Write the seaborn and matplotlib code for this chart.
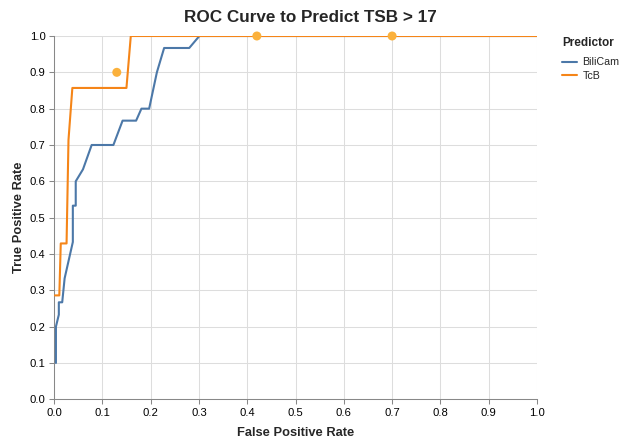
import matplotlib
matplotlib.use("Agg")
import matplotlib.pyplot as plt
import numpy as np
import pandas as pd
import seaborn as sns

# ROC coordinates for each predictor
bilicam_fpr = [0.004, 0.004, 0.010, 0.010, 0.017, 0.022, 0.039, 0.039, 0.045, 0.045,
               0.060, 0.078, 0.123, 0.142, 0.170, 0.181, 0.197, 0.213, 0.228, 0.280,
               0.301, 1.0]
bilicam_tpr = [0.100, 0.200, 0.233, 0.267, 0.267, 0.333, 0.433, 0.533, 0.533, 0.600,
               0.633, 0.700, 0.700, 0.767, 0.767, 0.800, 0.800, 0.900, 0.967, 0.967,
               1.0, 1.0]
tcb_fpr = [0.002, 0.011, 0.014, 0.026, 0.030, 0.038, 0.150, 0.159, 1.0]
tcb_tpr = [0.286, 0.286, 0.429, 0.429, 0.714, 0.857, 0.857, 1.0, 1.0]

# Highlighted TcB operating points
cut_fpr = [0.13, 0.42, 0.70]
cut_tpr = [0.90, 1.00, 1.00]

predictors = ["BiliCam", "TcB"]
colors = ["#4c78a8", "#f58518"]
ticks = np.round(np.arange(0, 1.01, 0.1), 1)

roc = pd.concat([
    pd.DataFrame({"fpr": bilicam_fpr, "tpr": bilicam_tpr, "Predictor": predictors[0]}),
    pd.DataFrame({"fpr": tcb_fpr, "tpr": tcb_tpr, "Predictor": predictors[1]}),
], ignore_index=True)
cuts = pd.DataFrame({"fpr": cut_fpr, "tpr": cut_tpr})

sns.set_theme(style="white")
plt.rcParams["font.family"] = ["Liberation Sans", "DejaVu Sans"]

W, H = 623, 443
fig = plt.figure(figsize=(W / 100, H / 100), dpi=100)
x0, x1, y0, y1 = 54, 537, 36, 399.3
ax = fig.add_axes([x0 / W, 1 - y1 / H, (x1 - x0) / W, (y1 - y0) / H])

sns.lineplot(data=roc, x="fpr", y="tpr", hue="Predictor", hue_order=predictors,
             palette=colors, sort=False, estimator=None,
             linewidth=1.5, ax=ax, legend=True, zorder=3)
sns.scatterplot(data=cuts, x="fpr", y="tpr", color="#fbb13c", s=42, edgecolor="none",
                ax=ax, zorder=4, clip_on=False)

ax.set_xlim(0, 1)
ax.set_ylim(0, 1)
ax.set_xticks(ticks)
ax.set_yticks(ticks)
ax.set_xticklabels([f"{t:.1f}" for t in ticks])
ax.set_yticklabels([f"{t:.1f}" for t in ticks])
ax.grid(True, color="#dddddd", linewidth=0.75)
ax.set_axisbelow(True)
for s in ["top", "right"]:
    ax.spines[s].set_visible(False)
for s in ["left", "bottom"]:
    ax.spines[s].set_color("#888888")
    ax.spines[s].set_linewidth(0.75)
ax.tick_params(axis="both", which="both", length=3.6, width=0.75, color="#888888",
               labelsize=8.1, labelcolor="#000000", pad=2.5, bottom=True, left=True)

ax.set_xlabel("False Positive Rate", fontsize=9.3, fontweight="bold", labelpad=7)
ax.set_ylabel("True Positive Rate", fontsize=9.3, fontweight="bold", labelpad=3)
fig.text(310 / W, 1 - 17 / H, "ROC Curve to Predict TSB > 17",
         ha="center", va="center", fontsize=12.3, fontweight="bold")

handles, labels = ax.get_legend_handles_labels()
ax.get_legend().remove()
leg = fig.legend(handles[:2], labels[:2], title="Predictor", loc="upper left",
                 bbox_to_anchor=(562 / W, 1 - 37 / H), frameon=False,
                 fontsize=7.7, title_fontsize=8.5, handlelength=1.42,
                 handletextpad=0.5, labelspacing=0.3, borderpad=0, borderaxespad=0)
leg.get_title().set_fontweight("bold")
leg._legend_box.align = "left"
leg._legend_box.sep = 6
for line in leg.get_lines():
    line.set_linewidth(1.5)

fig.savefig("out.png", dpi=100)
